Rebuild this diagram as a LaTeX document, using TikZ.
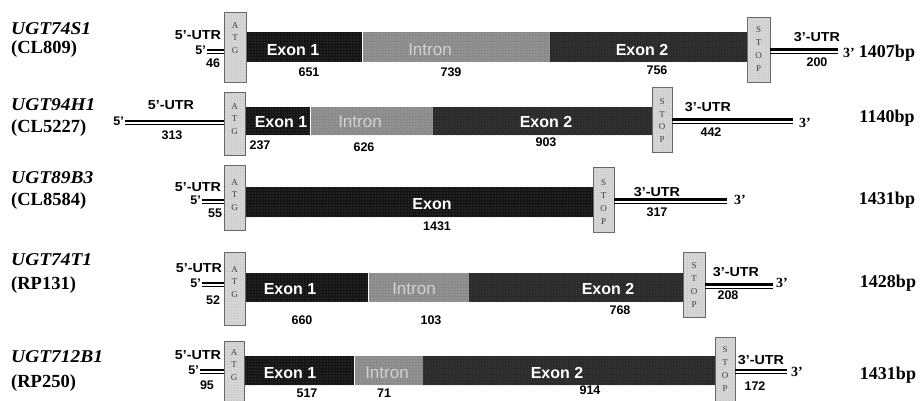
\documentclass[tikz,border=0pt]{standalone}
\usepackage{fontspec}
\setmainfont{Liberation Serif}
\setsansfont{Liberation Sans}
\usetikzlibrary{positioning,patterns}

\definecolor{exonA}{RGB}{20,20,20}
\definecolor{exonB}{RGB}{42,42,42}
\definecolor{intronC}{RGB}{138,138,138}
\definecolor{capC}{RGB}{214,214,214}

\begin{document}
\begin{tikzpicture}[x=1pt, y=-1pt,
  seg/.style = {anchor=west, inner sep=0pt},
  exA/.style = {seg, fill=exonA, postaction={pattern=dots, pattern color=black!55}},
  exB/.style = {seg, fill=exonB, postaction={pattern=dots, pattern color=black!60}},
  intr/.style = {seg, fill=intronC, postaction={pattern=dots, pattern color=black!20}},
  capbox/.style = {draw=black!60, fill=capC, inner sep=0pt, postaction={pattern=dots, pattern color=black!35}},
  capl/.style = {inner sep=0pt, align=center, text=black!75, font=\fontsize{9}{12.7}\selectfont},
  ttl/.style = {anchor=west, inner sep=0pt, xscale=1.08, font=\fontsize{18}{20}\selectfont\bfseries\itshape},
  clo/.style = {anchor=west, inner sep=0pt, font=\fontsize{18.5}{20}\selectfont\bfseries},
  bp/.style = {inner sep=0pt, font=\fontsize{18}{20}\selectfont\bfseries},
  lab/.style = {inner sep=0pt, text=white, font=\fontsize{16}{18}\selectfont\sffamily\bfseries},
  ilab/.style = {inner sep=0pt, text=white!82!black, font=\fontsize{17}{18}\selectfont\sffamily},
  num/.style = {inner sep=0pt, font=\fontsize{12.5}{14}\selectfont\sffamily\bfseries},
  utrl/.style = {inner sep=0pt, xscale=1.1, font=\fontsize{13}{14}\selectfont\sffamily\bfseries},
  fp/.style = {anchor=east, inner sep=1pt, font=\fontsize{12.5}{14}\selectfont\sffamily\bfseries},
  tp/.style = {inner sep=0pt, font=\fontsize{14}{16}\selectfont\bfseries},
  utr/.style = {line width=2.8pt, postaction={draw, line width=0.9pt, transform canvas={yshift=-3.8pt}}}]
\useasboundingbox (0,0) rectangle (924,400);

% UGT74S1
\node[ttl] (g1) at (11,29) {UGT74S1};
\node[clo] (c1) at (11,49) {(CL809)};
\node[exA, minimum width=116pt, minimum height=30pt] (e1a) at (246,47) {};
\node[intr, minimum width=187pt, minimum height=30pt, right=0pt of e1a] (i1) {};
\node[exB, minimum width=198pt, minimum height=30pt, right=0pt of i1] (e1b) {};
\node[capbox, minimum width=22pt, minimum height=70pt] (atg1) at (235,47) {};
\node[capl] (atgt1) at (235,38) {A\\T\\G};
\node[capbox, minimum width=23pt, minimum height=65pt] (stop1) at (758.5,49.5) {};
\node[capl] (stopt1) at (758.5,49) {S\\T\\O\\P};
\node[fp] (f1) at (207,50) {5’};
\node[utrl] (l1) at (198,35) {5’-UTR};
\node[num] (n1) at (213,63) {46};
\draw[utr] (f1.east) -- (f1.east -| atg1.west);
\node[lab] (x1a) at (293,50) {Exon 1};
\node[ilab] (y1) at (430,50) {Intron};
\node[lab] (x1b) at (642,50) {Exon 2};
\node[num] (k1a) at (309,72) {651};
\node[num] (k1b) at (451,72) {739};
\node[num] (k1c) at (657,70) {756};
\coordinate (u1) at (838,49);
\draw[utr] (stop1.east) -- (stop1.east -| u1);
\node[utrl] (r1) at (817,37) {3’-UTR};
\node[num] (m1) at (817,62) {200};
\node[tp] (t1) at (849,53) {3’};
\node[bp] (b1) at (887,53) {1407bp};

% UGT94H1
\node[ttl] (g2) at (11,105) {UGT94H1};
\node[clo] (c2) at (11,128) {(CL5227)};
\node[exA, minimum width=65pt, minimum height=28pt] (e2a) at (245,121) {};
\node[intr, minimum width=122pt, minimum height=28pt, right=0pt of e2a] (i2) {};
\node[exB, minimum width=220pt, minimum height=28pt, right=0pt of i2] (e2b) {};
\node[capbox, minimum width=21pt, minimum height=63pt] (atg2) at (234.5,123.5) {};
\node[capl] (atgt2) at (234.5,119) {A\\T\\G};
\node[capbox, minimum width=20pt, minimum height=65pt] (stop2) at (662,119.5) {};
\node[capl] (stopt2) at (662,120.5) {S\\T\\O\\P};
\node[fp] (f2) at (125,121) {5’};
\node[utrl] (l2) at (171,105) {5’-UTR};
\node[num] (n2) at (172,135) {313};
\draw[utr] (f2.east) -- (f2.east -| atg2.west);
\node[lab] (x2a) at (281,122) {Exon 1};
\node[ilab] (y2) at (360,122) {Intron};
\node[lab] (x2b) at (546,122) {Exon 2};
\node[num] (k2a) at (260,145) {237};
\node[num] (k2b) at (364,147) {626};
\node[num] (k2c) at (546,142) {903};
\coordinate (u2) at (793,120);
\draw[utr] (stop2.east) -- (stop2.east -| u2);
\node[utrl] (r2) at (708,107) {3’-UTR};
\node[num] (m2) at (711,132) {442};
\node[tp] (t2) at (805,123) {3’};
\node[bp] (b2) at (887,118) {1140bp};

% UGT89B3
\node[ttl] (g3) at (11,178) {UGT89B3};
\node[clo] (c3) at (11,201) {(CL8584)};
\node[exA, minimum width=348pt, minimum height=30pt] (e3) at (245,202) {};
\node[capbox, minimum width=21pt, minimum height=65pt] (atg3) at (234.5,197.5) {};
\node[capl] (atgt3) at (234.5,195) {A\\T\\G};
\node[capbox, minimum width=21pt, minimum height=65pt] (stop3) at (603.5,199.5) {};
\node[capl] (stopt3) at (603.5,202) {S\\T\\O\\P};
\node[fp] (f3) at (202,200) {5’};
\node[utrl] (l3) at (198,187) {5’-UTR};
\node[num] (n3) at (215,213) {55};
\draw[utr] (f3.east) -- (f3.east -| atg3.west);
\node[lab] (x3) at (432,204) {Exon};
\node[num] (k3) at (437,226) {1431};
\coordinate (u3) at (727,200);
\draw[utr] (stop3.east) -- (stop3.east -| u3);
\node[utrl] (r3) at (657,192) {3’-UTR};
\node[num] (m3) at (657,212) {317};
\node[tp] (t3) at (740,200) {3’};
\node[bp] (b3) at (887,200) {1431bp};

% UGT74T1
\node[ttl] (g4) at (11,260) {UGT74T1};
\node[clo] (c4) at (11,285) {(RP131)};
\node[exA, minimum width=123pt, minimum height=29pt] (e4a) at (245,287.5) {};
\node[intr, minimum width=100pt, minimum height=29pt, right=0pt of e4a] (i4) {};
\node[exB, minimum width=215pt, minimum height=29pt, right=0pt of i4] (e4b) {};
\node[capbox, minimum width=21pt, minimum height=73pt] (atg4) at (234.5,288.5) {};
\node[capl] (atgt4) at (234.5,282) {A\\T\\G};
\node[capbox, minimum width=22pt, minimum height=65pt] (stop4) at (694,284.5) {};
\node[capl] (stopt4) at (694,285) {S\\T\\O\\P};
\node[fp] (f4) at (202,283) {5’};
\node[utrl] (l4) at (199,268) {5’-UTR};
\node[num] (n4) at (213,300) {52};
\draw[utr] (f4.east) -- (f4.east -| atg4.west);
\node[lab] (x4a) at (290,289) {Exon 1};
\node[ilab] (y4) at (414,289) {Intron};
\node[lab] (x4b) at (608,289) {Exon 2};
\node[num] (k4a) at (302,320) {660};
\node[num] (k4b) at (431,320) {103};
\node[num] (k4c) at (620,310) {768};
\coordinate (u4) at (773,283);
\draw[utr] (stop4.east) -- (stop4.east -| u4);
\node[utrl] (r4) at (736,272) {3’-UTR};
\node[num] (m4) at (728,295) {208};
\node[tp] (t4) at (782,283) {3’};
\node[bp] (b4) at (888,283) {1428bp};

% UGT712B1
\node[ttl] (g5) at (11,357) {UGT712B1};
\node[clo] (c5) at (11,383) {(RP250)};
\node[exA, minimum width=110pt, minimum height=29pt] (e5a) at (244,370.5) {};
\node[intr, minimum width=68pt, minimum height=29pt, right=0pt of e5a] (i5) {};
\node[exB, minimum width=293pt, minimum height=29pt, right=0pt of i5] (e5b) {};
\node[capbox, minimum width=20pt, minimum height=62pt] (atg5) at (234,372) {};
\node[capl] (atgt5) at (234,365) {A\\T\\G};
\node[capbox, minimum width=20pt, minimum height=66pt] (stop5) at (725,370) {};
\node[capl] (stopt5) at (725,369) {S\\T\\O\\P};
\node[fp] (f5) at (200,370) {5’};
\node[utrl] (l5) at (198,355) {5’-UTR};
\node[num] (n5) at (207,385) {95};
\draw[utr] (f5.east) -- (f5.east -| atg5.west);
\node[lab] (x5a) at (290,373) {Exon 1};
\node[ilab] (y5) at (387,373) {Intron};
\node[lab] (x5b) at (557,373) {Exon 2};
\node[num] (k5a) at (307,393) {517};
\node[num] (k5b) at (384,393) {71};
\node[num] (k5c) at (590,390) {914};
\coordinate (u5) at (787,371);
\draw[utr] (stop5.east) -- (stop5.east -| u5);
\node[utrl] (r5) at (761,360) {3’-UTR};
\node[num] (m5) at (755,386) {172};
\node[tp] (t5) at (797,372) {3’};
\node[bp] (b5) at (888,375) {1431bp};
\end{tikzpicture}
\end{document}
